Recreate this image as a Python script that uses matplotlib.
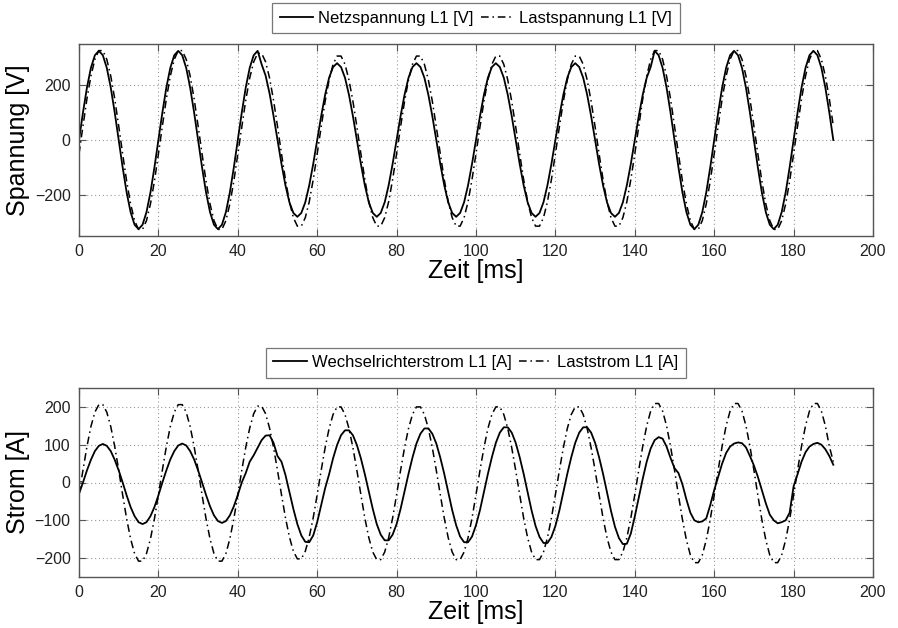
import numpy as np
import matplotlib
matplotlib.use("Agg")
import matplotlib.pyplot as plt

plt.rcParams['font.family'] = ['Liberation Sans', 'DejaVu Sans']

# ---------------- data (1 ms samples, t = 0..190 ms) ----------------
netzspannung = [
    0, 100, 191, 263, 309, 325, 309, 263, 191, 100, 0,
    -100, -191, -263, -309, -325, -309, -263, -191, -100, 0,
    100, 191, 263, 309, 325, 309, 263, 191, 100, 0,
    -100, -191, -263, -309, -325, -309, -263, -191, -100, 0,
    100, 191, 263, 309, 325, 276, 235, 170, 88, 0,
    -87, -165, -227, -266, -280, -266, -227, -165, -87, 0,
    87, 165, 227, 266, 280, 266, 227, 165, 87, 0,
    -87, -165, -227, -266, -280, -266, -227, -165, -87, 0,
    87, 165, 227, 266, 280, 266, 227, 165, 87, 0,
    -87, -165, -227, -266, -280, -266, -227, -165, -87, 0,
    87, 165, 227, 266, 280, 266, 227, 165, 87, 0,
    -87, -165, -227, -266, -280, -266, -227, -165, -87, 0,
    87, 165, 227, 266, 280, 266, 227, 165, 87, 0,
    -87, -165, -227, -266, -280, -266, -227, -165, -87, 0,
    87, 165, 227, 266, 325, 309, 263, 191, 100, 0,
    -100, -191, -263, -309, -325, -309, -263, -191, -100, 0,
    100, 191, 263, 309, 325, 309, 263, 191, 100, 0,
    -100, -191, -263, -309, -325, -309, -263, -191, -100, 0,
    100, 191, 263, 309, 325, 309, 263, 191, 100, 0,
]

lastspannung = [
    -51,
    51, 150, 233, 294, 326, 326, 294, 233, 150, 51,
    -51, -150, -233, -294, -326, -326, -294, -233, -150, -51,
    51, 150, 233, 294, 326, 326, 294, 233, 150, 51,
    -51, -150, -233, -294, -326, -326, -294, -233, -150, -51,
    50, 145, 226, 285, 316, 316, 285, 226, 145, 50,
    -50, -144, -225, -283, -314, -314, -283, -225, -144, -50,
    48, 141, 219, 276, 306, 306, 276, 219, 141, 48,
    -50, -144, -225, -283, -314, -314, -283, -225, -144, -50,
    48, 141, 219, 276, 306, 306, 276, 219, 141, 48,
    -50, -144, -225, -283, -314, -314, -283, -225, -144, -50,
    48, 141, 219, 276, 306, 306, 276, 219, 141, 48,
    -50, -144, -225, -283, -314, -314, -283, -225, -144, -50,
    48, 141, 219, 276, 306, 306, 276, 219, 141, 48,
    -50, -144, -225, -283, -314, -314, -283, -225, -144, -50,
    51, 150, 233, 294, 326, 326, 294, 233, 150, 51,
    -51, -150, -233, -294, -326, -326, -294, -233, -150, -51,
    51, 150, 233, 294, 326, 326, 294, 233, 150, 51,
    -51, -150, -233, -294, -326, -326, -294, -233, -150, -51,
    51, 150, 233, 294, 326, 326, 294, 233, 150, 51,
]

wechselrichterstrom = [
    -30,
    0, 32, 60, 83, 97, 102, 97, 83, 60, 32, 0,
    -34, -65, -89, -105, -110, -105, -89, -65, -34, 0,
    32, 61, 83, 98, 103, 98, 83, 61, 32, 0,
    -33, -63, -87, -102, -107, -102, -87, -63, -33, 0,
    25, 55, 72, 92, 112, 124, 125, 105, 70, 55, 20,
    -25, -70, -110, -140, -157, -158, -140, -105, -60, -15,
    22, 64, 99, 125, 138, 138, 125, 99, 64, 22,
    -24, -70, -110, -138, -153, -153, -138, -110, -70, -24,
    23, 66, 103, 129, 143, 143, 129, 103, 66, 23,
    -25, -73, -113, -143, -158, -158, -143, -113, -73, -25,
    23, 67, 105, 132, 146, 146, 132, 105, 67, 23,
    -25, -74, -115, -144, -160, -160, -144, -115, -74, -25,
    23, 67, 105, 132, 146, 146, 132, 105, 67, 23,
    -26, -75, -117, -147, -163, -162, -135, -90, -40,
    10, 55, 90, 112, 120, 116, 95, 65, 38, 25,
    -5, -45, -80, -100, -105, -103, -95, -60, -20,
    15, 50, 78, 95, 103, 106, 104, 93, 70, 45, 15,
    -20, -55, -85, -100, -108, -105, -100, -80, -10,
    22, 55, 80, 95, 102, 105, 100, 88, 70, 47,
]

laststrom = [
    -30,
    33, 95, 148, 186, 206, 206, 186, 148, 95, 33,
    -33, -96, -149, -188, -208, -208, -188, -149, -96, -33,
    33, 95, 148, 186, 206, 206, 186, 148, 95, 33,
    -33, -96, -149, -188, -208, -208, -188, -149, -96, -33,
    32, 93, 144, 182, 202, 202, 182, 144, 93, 32,
    -32, -93, -144, -182, -202, -202, -182, -144, -93, -32,
    32, 92, 143, 180, 200, 200, 180, 143, 92, 32,
    -32, -94, -146, -184, -204, -204, -184, -146, -94, -32,
    32, 92, 143, 180, 200, 200, 180, 143, 92, 32,
    -32, -94, -146, -184, -204, -204, -184, -146, -94, -32,
    32, 92, 143, 180, 200, 200, 180, 143, 92, 32,
    -32, -94, -146, -184, -204, -204, -184, -146, -94, -32,
    32, 92, 143, 180, 200, 200, 180, 143, 92, 32,
    -32, -94, -146, -184, -204, -204, -184, -146, -94, -32,
    33, 96, 150, 189, 209, 209, 189, 150, 96, 33,
    -34, -98, -152, -192, -212, -212, -192, -152, -98, -34,
    33, 96, 150, 189, 209, 209, 189, 150, 96, 33,
    -34, -98, -152, -192, -212, -212, -192, -152, -98, -34,
    33, 96, 150, 189, 209, 209, 189, 150, 96, 55,
]

x_ticks = [0, 20, 40, 60, 80, 100, 120, 140, 160, 180, 200]
y_ticks_u = [-200, 0, 200]
y_ticks_i = [-200, -100, 0, 100, 200]

# ---------------- figure ----------------
fig = plt.figure(figsize=(8.98, 6.28), dpi=100)
W, H = 898, 628

def px_axes(l, t, r, b):
    return fig.add_axes([l / W, 1 - b / H, (r - l) / W, (b - t) / H])

ax1 = px_axes(79, 44, 873, 236)
ax2 = px_axes(79, 388, 873, 577)

frame_col = '#555555'
dashdot = (0, (5, 2.5, 1, 2.5))

def style(ax, yticks, ylim, ylabel, xlab_y):
    ax.set_xlim(0, 200)
    ax.set_ylim(*ylim)
    ax.set_xticks(x_ticks)
    ax.set_yticks(yticks)
    ax.grid(True, linestyle=(0, (1, 2.5)), color='#999999', linewidth=0.8)
    ax.tick_params(direction='in', length=5, width=0.8, color=frame_col,
                   labelsize=11.5, labelcolor='#222222', top=True, right=True,
                   pad=6)
    for s in ax.spines.values():
        s.set_color(frame_col)
        s.set_linewidth(1.0)
    ax.set_xlabel('Zeit [ms]', fontsize=18, va='top')
    ax.xaxis.set_label_coords(0.5, xlab_y)
    ax.set_ylabel(ylabel, fontsize=18)
    ax.yaxis.set_label_coords(-0.062, 0.5)

def t_of(s):
    return np.arange(len(s))

ax1.plot(t_of(netzspannung), netzspannung, color='black', lw=1.3,
         label='Netzspannung L1 [V]')
ax1.plot(t_of(lastspannung), lastspannung, color='black', lw=1.1,
         linestyle=dashdot, label='Lastspannung L1 [V]')
style(ax1, y_ticks_u, (-350, 350), 'Spannung [V]', -0.122)

ax2.plot(t_of(wechselrichterstrom), wechselrichterstrom, color='black', lw=1.3,
         label='Wechselrichterstrom L1 [A]')
ax2.plot(t_of(laststrom), laststrom, color='black', lw=1.1,
         linestyle=dashdot, label='Laststrom L1 [A]')
style(ax2, y_ticks_i, (-250, 250), 'Strom [A]', -0.122)

for ax in (ax1, ax2):
    leg = ax.legend(loc='lower center', bbox_to_anchor=(0.5, 1.055), ncol=2,
                    fontsize=12.0, frameon=True, fancybox=False,
                    edgecolor=frame_col, borderpad=0.45, handlelength=2.0,
                    handletextpad=0.3, columnspacing=0.45, borderaxespad=0.0)
    leg.get_frame().set_linewidth(0.9)

fig.savefig('out.png', dpi=100)
